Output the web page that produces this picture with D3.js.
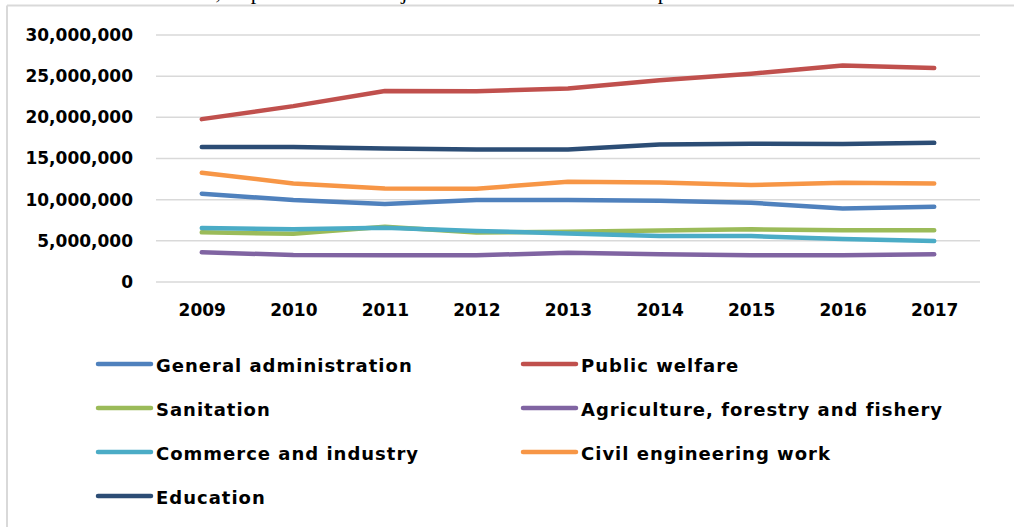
<!DOCTYPE html>
<html>
<head>
<meta charset="utf-8">
<script src="https://cdn.jsdelivr.net/npm/d3@7"></script>
<style>
  html, body { margin: 0; padding: 0; background: #fff; }
  svg { display: block; }
  text { font-family: "DejaVu Sans", Verdana, sans-serif; font-weight: 700; fill: #000; }
</style>
</head>
<body>
<svg id="chart" width="1014" height="527"></svg>
<script>
// Expenditure by subject, 2009-2017
const years = ["2009", "2010", "2011", "2012", "2013", "2014", "2015", "2016", "2017"];
const yTicks = [0, 5000000, 10000000, 15000000, 20000000, 25000000, 30000000];

const generalAdministration = [10720000, 9950000, 9470000, 9950000, 9950000, 9870000, 9630000, 8940000, 9140000];
const publicWelfare        = [19780000, 21360000, 23200000, 23180000, 23500000, 24500000, 25300000, 26300000, 26000000];
const sanitation           = [6030000, 5850000, 6700000, 6000000, 6100000, 6250000, 6400000, 6300000, 6300000];
const agriculture          = [3600000, 3280000, 3240000, 3240000, 3560000, 3360000, 3240000, 3240000, 3360000];
const commerce             = [6550000, 6400000, 6600000, 6200000, 5900000, 5580000, 5580000, 5220000, 4980000];
const civilEngineering     = [13270000, 11970000, 11370000, 11330000, 12170000, 12100000, 11770000, 12050000, 11970000];
const education            = [16400000, 16400000, 16200000, 16100000, 16100000, 16700000, 16800000, 16750000, 16900000];

const seriesNames = [
  "General administration", "Public welfare", "Sanitation",
  "Agriculture, forestry and fishery", "Commerce and industry",
  "Civil engineering work", "Education"
];
const seriesValues = [generalAdministration, publicWelfare, sanitation, agriculture, commerce, civilEngineering, education];
const colors = ["#4F81BD", "#C0504D", "#9BBB59", "#8064A2", "#4BACC6", "#F79646", "#2C4D75"];

const svg = d3.select("#chart");

// Chart frame (left and top edges visible)
svg.append("line").attr("x1", 7).attr("x2", 7).attr("y1", 5.5).attr("y2", 527)
  .attr("stroke", "#d9d9d9").attr("stroke-width", 2);
svg.append("line").attr("x1", 7).attr("x2", 1014).attr("y1", 5.5).attr("y2", 5.5)
  .attr("stroke", "#d9d9d9").attr("stroke-width", 2);

// Caption above the frame, mostly outside the page
svg.append("text")
  .attr("x", 150).attr("y", -1)
  .style("font-family", "'Liberation Serif', serif")
  .style("font-weight", 400)
  .style("font-size", "22px")
  .text("Chart 3, Expenditure on Subject of Local Government Expa");

const plot = { left: 156, right: 980, top: 35, bottom: 282 };

const x = d3.scalePoint().domain(years).range([plot.left, plot.right]).padding(0.5);
const y = d3.scaleLinear().domain([0, 30000000]).range([plot.bottom, plot.top]);

// Horizontal gridlines
svg.append("g")
  .selectAll("line")
  .data(yTicks)
  .join("line")
  .attr("x1", plot.left).attr("x2", plot.right)
  .attr("y1", d => y(d)).attr("y2", d => y(d))
  .attr("stroke", "#d9d9d9").attr("stroke-width", 1.5);

const labelFont = g => g.selectAll("text")
  .style("font-family", "'DejaVu Sans', sans-serif")
  .style("font-weight", 700)
  .style("font-size", "17px")
  .attr("fill", "#000");

// Y axis labels
const yAxis = d3.axisLeft(y).tickValues(yTicks).tickSize(0).tickPadding(0)
  .tickFormat(d3.format(","));
svg.append("g")
  .attr("transform", `translate(${133},0)`)
  .call(yAxis)
  .call(g => g.select(".domain").remove())
  .call(labelFont);

// X axis labels
const xAxis = d3.axisBottom(x).tickSize(0).tickPadding(0);
svg.append("g")
  .attr("transform", `translate(0,${304})`)
  .call(xAxis)
  .call(g => g.select(".domain").remove())
  .call(labelFont);

// Series lines
const line = d3.line().x((d, i) => x(years[i])).y(d => y(d));
svg.append("g")
  .selectAll("path")
  .data(seriesValues)
  .join("path")
  .attr("d", d => line(d))
  .attr("fill", "none")
  .attr("stroke", (d, i) => colors[i])
  .attr("stroke-width", 4.5)
  .attr("stroke-linecap", "round")
  .attr("stroke-linejoin", "round");

// Legend in two columns
const legendCols = [96, 521];
const legendRows = [364, 408, 452, 496];
const legend = svg.append("g")
  .selectAll("g")
  .data(seriesNames)
  .join("g")
  .attr("transform", (d, i) => `translate(${legendCols[i % 2]},${legendRows[Math.floor(i / 2)]})`);
legend.append("line")
  .attr("x1", 2).attr("x2", 55).attr("y1", 0).attr("y2", 0)
  .attr("stroke", (d, i) => colors[i])
  .attr("stroke-width", 4.5)
  .attr("stroke-linecap", "round");
legend.append("text")
  .attr("x", 60).attr("y", 7.5)
  .style("font-size", "18px")
  .style("letter-spacing", "1px")
  .text(d => d);
</script>
</body>
</html>
